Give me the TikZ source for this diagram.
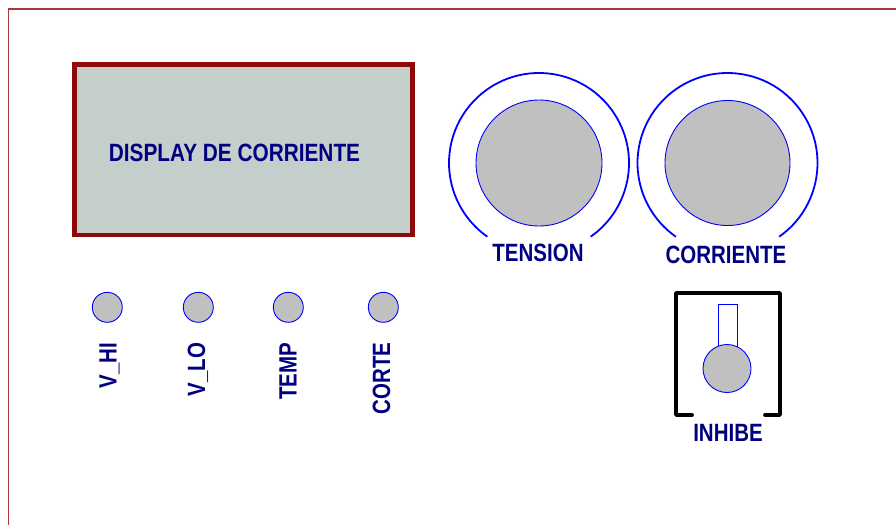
\documentclass[tikz,border=0pt]{standalone}
\usepackage{fontspec}
\setmainfont{Liberation Sans}
\definecolor{frame}{HTML}{A83A3A}
\definecolor{dispborder}{HTML}{8E0A0A}
\definecolor{dispfill}{HTML}{C4CFCC}
\definecolor{navy}{HTML}{000080}
\definecolor{knob}{HTML}{C0C0C0}
\definecolor{ring}{HTML}{0000FF}
\tikzset{
  lbl/.style={text=navy, font=\bfseries\fontsize{25}{25}\selectfont, xscale=0.82, inner sep=0pt},
  vlbl/.style={text=navy, font=\bfseries\fontsize{25}{25}\selectfont, inner sep=0pt, rotate=90, anchor=base east},
  knobc/.style={draw=ring, fill=knob, line width=0.9pt, circle, inner sep=0pt},
  ringarc/.style={draw=ring, line width=1.8pt},
}
\begin{document}
\begin{tikzpicture}[x=1pt,y=-1pt]
\useasboundingbox (0,0) rectangle (896,525);
% frame
\draw[frame, line width=1.4pt] (8.5,525) -- (8.5,9) -- (896,9);
% display
\node[draw=dispborder, fill=dispfill, line width=4.5pt, minimum width=338pt, minimum height=170.5pt, inner sep=0pt] (disp) at (243.6,149.8) {};
\node[lbl, xscale=1.015] (disptxt) at (234.5,153) {DISPLAY DE CORRIENTE};
% knobs
\node[knobc, minimum size=126pt] (kt) at (539,163) {};
\draw[ringarc] (539,163) ++(-55:90pt) arc[start angle=-55, end angle=235, radius=90pt];
\node[lbl] (tt) at (538,253) {TENSION};
\node[knobc, minimum size=125pt] (kc) at (727.5,163) {};
\draw[ringarc] (727.5,163) ++(-55:90pt) arc[start angle=-55, end angle=235, radius=90pt];
\node[lbl] (tc) at (726,255) {CORRIENTE};
% LEDs
\foreach \x/\b/\t/\n in {107.3/116.7/V\_HI/a, 198.3/205/V\_LO/b, 288.3/296.7/TEMP/c, 383.3/390/CORTE/d}{
  \node[knobc, minimum size=30pt] (led\n) at (\x,307.3) {};
  \node[vlbl] (lab\n) at (\b,342.5) {\scalebox{0.82}[1]{\t}};
}
% INHIBE switch
\draw[black, line width=3.8pt, line cap=round, line join=round] (692,415) -- (676,415) -- (676,293) -- (780,293) -- (780,415) -- (765,415);
\node[draw=ring, fill=white, line width=0.9pt, minimum width=19pt, minimum height=44pt, inner sep=0pt, anchor=north] (lever) at (727.5,304) {};
\node[knobc, minimum size=48pt] (ki) at (727,368.5) {};
\node[lbl] (ti) at (728,432.5) {INHIBE};
\end{tikzpicture}
\end{document}
